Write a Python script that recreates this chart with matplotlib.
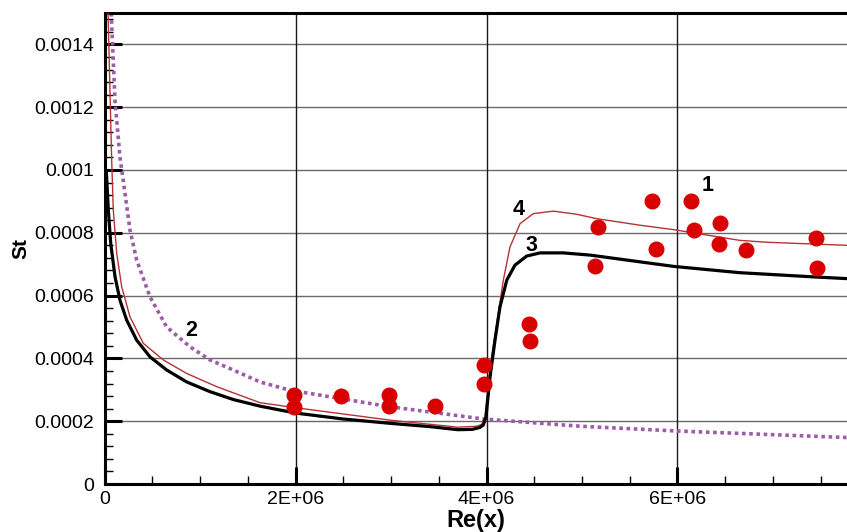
"""Stanton number vs Re(x): experiment (1) and computed curves (2, 3, 4)."""
import matplotlib
matplotlib.use("Agg")
import matplotlib.pyplot as plt
from matplotlib.ticker import MultipleLocator, FixedLocator

plt.rcParams['font.family'] = ['Liberation Sans', 'DejaVu Sans']

# 1 - experimental points
exp_x = [1.98e6, 1.98e6, 2.48e6, 2.98e6, 2.98e6, 3.46e6, 3.97e6, 3.97e6,
         4.45e6, 4.46e6, 5.17e6, 5.14e6, 5.73e6, 5.78e6, 6.14e6, 6.17e6,
         6.45e6, 6.43e6, 6.72e6, 7.45e6, 7.46e6]
exp_st = [0.000285, 0.000246, 0.000281, 0.000285, 0.000248, 0.000249, 0.000378, 0.000318,
          0.000509, 0.000456, 0.000818, 0.000694, 0.000900, 0.000749, 0.000901, 0.000810,
          0.000831, 0.000765, 0.000746, 0.000783, 0.000689]

# 2 - dotted curve
c2_x = [0.07e6, 0.11e6, 0.162e6, 0.215e6, 0.267e6, 0.337e6, 0.476e6, 0.651e6, 0.895e6,
        1.105e6, 1.349e6, 1.628e6, 1.94e6, 2.99e6, 3.97e6, 4.98e6, 5.98e6, 7.78e6]
c2_st = [0.0015, 0.00122, 0.00104, 0.000925, 0.000808, 0.000713, 0.000596, 0.0005, 0.000437,
         0.000395, 0.000363, 0.000325, 0.000299, 0.000246, 0.000207, 0.000184, 0.000169, 0.000148]

# 3 - thick black curve
c3_x = [0.02e6, 0.04e6, 0.065e6, 0.11e6, 0.162e6, 0.232e6, 0.337e6, 0.476e6, 0.651e6,
        0.861e6, 1.105e6, 1.349e6, 1.628e6, 2.0e6, 2.5e6, 3.0e6, 3.4e6, 3.7e6, 3.85e6,
        3.93e6, 3.967e6, 3.995e6, 4.037e6, 4.089e6, 4.141e6, 4.212e6, 4.298e6, 4.421e6,
        4.56e6, 4.804e6, 5.084e6, 5.96e6, 6.65e6, 7.46e6, 7.78e6]
c3_st = [0.00099, 0.000872, 0.000766, 0.00066, 0.000585, 0.000522, 0.000458, 0.000405, 0.000363,
         0.000325, 0.000294, 0.000269, 0.000248, 0.000226, 0.000207, 0.000193, 0.000183, 0.000173, 0.000174,
         0.00018, 0.000188, 0.000214, 0.000341, 0.000458, 0.000564, 0.000649, 0.000697, 0.000726,
         0.000736, 0.000736, 0.000729, 0.000693, 0.000673, 0.000659, 0.000654]

# 4 - thin red curve
c4_x = [0.037e6, 0.075e6, 0.092e6, 0.128e6, 0.18e6, 0.267e6, 0.406e6, 0.616e6, 0.861e6,
        1.175e6, 1.628e6, 2.0e6, 3.0e6, 3.7e6, 3.9e6, 3.95e6, 3.984e6, 4.037e6, 4.107e6,
        4.176e6, 4.246e6, 4.351e6, 4.49e6, 4.7e6, 4.944e6, 5.154e6, 5.61e6, 5.96e6,
        6.65e6, 6.93e6, 7.78e6]
c4_st = [0.0015, 0.00103, 0.000872, 0.000734, 0.000628, 0.000532, 0.000448, 0.000395, 0.000352,
         0.00031, 0.000259, 0.000243, 0.000203, 0.000181, 0.000184, 0.00019, 0.000214, 0.000373, 0.000511,
         0.000649, 0.000755, 0.000829, 0.000861, 0.000869, 0.000859, 0.000845, 0.000824, 0.00081,
         0.000776, 0.00077, 0.00076]

curve_labels = ['1', '2', '3', '4']
label_x = [6.32e6, 0.913e6, 4.47e6, 4.34e6]
label_st = [0.000951, 0.000488, 0.000758, 0.000875]

x_ticks = [0, 2e6, 4e6, 6e6]
x_ticklabels = ['0', '2E+06', '4E+06', '6E+06']
y_ticks = [0, 0.0002, 0.0004, 0.0006, 0.0008, 0.001, 0.0012, 0.0014]
y_ticklabels = ['0', '0.0002', '0.0004', '0.0006', '0.0008', '0.001', '0.0012', '0.0014']

fig = plt.figure(figsize=(8.47, 5.32), dpi=100)
ax = fig.add_axes([0.1234, 0.0902, 0.8766, 0.8854])

ax.set_xlim(0, 7.775e6)
ax.set_ylim(0, 0.0015)

# grid
for yv in y_ticks[1:]:
    ax.axhline(yv, color='#6a6a6a', lw=1.0, zorder=0)
for xv in x_ticks[1:]:
    ax.axvline(xv, color='#1a1a1a', lw=1.0, zorder=0)

ax.plot(c2_x, c2_st, color='#9c5ca8', lw=2.6, ls=(0, (1.0, 1.0)), zorder=2)
ax.plot(c4_x, c4_st, color='#b43434', lw=1.0, zorder=3)
ax.plot(c3_x, c3_st, color='black', lw=2.3, zorder=4)
ax.plot(exp_x, exp_st, 'o', color='#d80000', ms=10.5, mec='#d80000', zorder=5)

for lab, lx, ly in zip(curve_labels, label_x, label_st):
    ax.text(lx, ly, lab, fontsize=15.5, fontweight='bold', ha='center', va='center', zorder=6)

ax.xaxis.set_major_locator(FixedLocator(x_ticks))
ax.set_xticklabels(x_ticklabels)
ax.xaxis.set_minor_locator(MultipleLocator(0.5e6))
ax.yaxis.set_major_locator(FixedLocator(y_ticks))
ax.set_yticklabels(y_ticklabels)
ax.yaxis.set_minor_locator(MultipleLocator(0.00004))

ax.tick_params(which='major', direction='in', length=12, width=2.2, labelsize=14)
ax.tick_params(axis='y', which='major', pad=7.5)
ax.tick_params(axis='x', which='major', pad=5)
ax.tick_params(which='minor', direction='in', length=6, width=1.0)
ax.tick_params(top=False, right=False, which='both')

for side in ['left', 'bottom', 'top']:
    ax.spines[side].set_linewidth(2.2)
ax.spines['right'].set_visible(False)

ax.set_xlabel('Re(x)', fontsize=17, fontweight='bold', labelpad=0.5)
ax.set_ylabel('St', fontsize=15, fontweight='bold', labelpad=3)

fig.savefig('out.png', dpi=100)
